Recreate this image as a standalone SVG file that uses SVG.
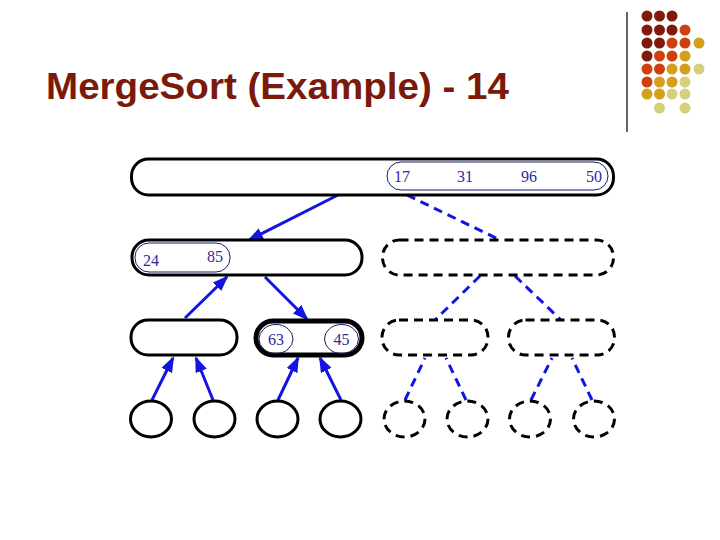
<svg xmlns="http://www.w3.org/2000/svg" width="720" height="540" viewBox="0 0 720 540">
<defs>
<style>
.box{fill:#fff;stroke:#000;stroke-width:3}
.thick{fill:#fff;stroke:#000;stroke-width:5}
.dbox{fill:#fff;stroke:#000;stroke-width:3;stroke-dasharray:9 6}
.inner{fill:none;stroke:#1a1a70;stroke-width:1}
.num{font-family:"Liberation Serif",serif;font-size:16px;fill:#2a2a9a}
.arr{stroke:#1414e0;stroke-width:3;fill:none}
.darr{stroke:#1414e0;stroke-width:3;fill:none;stroke-dasharray:9 6}
.dr{fill:#801a0a}.or{fill:#d0400e}.go{fill:#d4a01c}.pa{fill:#d4d07c}
</style>
<marker id="ah" markerUnits="userSpaceOnUse" markerWidth="16" markerHeight="12" refX="14" refY="6" orient="auto">
<path d="M0,0 L16,6 L0,12 Z" fill="#1414e0"/>
</marker>
</defs>
<rect width="720" height="540" fill="#fff"/>
<text x="46" y="99" font-family="Liberation Sans,Arial,sans-serif" font-size="36" font-weight="bold" fill="#7a1a0a" textLength="463" lengthAdjust="spacingAndGlyphs">MergeSort (Example) - 14</text>
<line x1="627" y1="12" x2="627" y2="132" stroke="#333" stroke-width="1.5"/>
<g id="dots">
<circle class="dr" cx="647" cy="16" r="5.5"/><circle class="dr" cx="659.5" cy="16" r="5.5"/><circle class="dr" cx="672" cy="16" r="5.5"/>
<circle class="dr" cx="647" cy="30" r="5.5"/><circle class="dr" cx="659.5" cy="30" r="5.5"/><circle class="dr" cx="672" cy="30" r="5.5"/><circle class="or" cx="685" cy="30" r="5.5"/>
<circle class="dr" cx="647" cy="43" r="5.5"/><circle class="dr" cx="659.5" cy="43" r="5.5"/><circle class="or" cx="672" cy="43" r="5.5"/><circle class="or" cx="685" cy="43" r="5.5"/><circle class="go" cx="699" cy="43" r="5.5"/>
<circle class="dr" cx="647" cy="56" r="5.5"/><circle class="or" cx="659.5" cy="56" r="5.5"/><circle class="or" cx="672" cy="56" r="5.5"/><circle class="go" cx="685" cy="56" r="5.5"/>
<circle class="or" cx="647" cy="69" r="5.5"/><circle class="or" cx="659.5" cy="69" r="5.5"/><circle class="go" cx="672" cy="69" r="5.5"/><circle class="go" cx="685" cy="69" r="5.5"/><circle class="pa" cx="699" cy="69" r="5.5"/>
<circle class="or" cx="647" cy="82" r="5.5"/><circle class="go" cx="659.5" cy="82" r="5.5"/><circle class="go" cx="672" cy="82" r="5.5"/><circle class="pa" cx="685" cy="82" r="5.5"/>
<circle class="go" cx="647" cy="94" r="5.5"/><circle class="go" cx="659.5" cy="94" r="5.5"/><circle class="pa" cx="672" cy="94" r="5.5"/><circle class="pa" cx="685" cy="94" r="5.5"/>
<circle class="pa" cx="659.5" cy="108" r="5.5"/><circle class="pa" cx="685" cy="108" r="5.5"/>
</g>
<g id="connectors">
<line class="arr" x1="338" y1="195" x2="249" y2="240" marker-end="url(#ah)"/>
<line class="darr" x1="407" y1="195" x2="498" y2="239"/>
<line class="arr" x1="185" y1="318" x2="227" y2="277" marker-end="url(#ah)"/>
<line class="arr" x1="265" y1="277" x2="307" y2="319" marker-end="url(#ah)"/>
<line class="darr" x1="480" y1="276" x2="435" y2="320"/>
<line class="darr" x1="515" y1="276" x2="561" y2="320"/>
<line class="arr" x1="152" y1="400" x2="173" y2="358" marker-end="url(#ah)"/>
<line class="arr" x1="213" y1="400" x2="196" y2="358" marker-end="url(#ah)"/>
<line class="arr" x1="278" y1="400" x2="298" y2="358" marker-end="url(#ah)"/>
<line class="arr" x1="341" y1="400" x2="320" y2="358" marker-end="url(#ah)"/>
<line class="darr" x1="405" y1="400" x2="425" y2="358"/>
<line class="darr" x1="466" y1="400" x2="446" y2="358"/>
<line class="darr" x1="531" y1="400" x2="552" y2="358"/>
<line class="darr" x1="592" y1="400" x2="572" y2="358"/>
</g>
<g id="n1">
<rect class="box" x="131.5" y="159" width="482" height="36" rx="17"/>
<rect class="inner" x="387" y="162" width="221" height="28" rx="14"/>
<text class="num" x="394" y="182">17</text><text class="num" x="457" y="182">31</text><text class="num" x="521" y="182">96</text><text class="num" x="586" y="182">50</text>
</g>
<g id="n2">
<rect class="box" x="132" y="240" width="230" height="35" rx="17"/>
<rect class="inner" x="135" y="243" width="95" height="29" rx="14"/>
<text class="num" x="143" y="266">24</text><text class="num" x="207" y="262">85</text>
</g>
<g id="n3"><rect class="dbox" x="382.5" y="240" width="231" height="35" rx="17"/></g>
<g id="n4"><rect class="box" x="131" y="320" width="106" height="35" rx="17"/></g>
<g id="n5">
<rect class="thick" x="256" y="321" width="106" height="34" rx="17"/>
<ellipse class="inner" cx="276" cy="339" rx="17" ry="14.5"/>
<ellipse class="inner" cx="341.5" cy="339" rx="17" ry="14.5"/>
<text class="num" x="276" y="345" text-anchor="middle">63</text><text class="num" x="341.5" y="345" text-anchor="middle">45</text>
</g>
<g id="n6"><rect class="dbox" x="382" y="320" width="106" height="35" rx="17"/></g>
<g id="n7"><rect class="dbox" x="508.5" y="320" width="106" height="35" rx="17"/></g>
<g id="n8"><ellipse class="box" cx="151" cy="419" rx="20.5" ry="18"/></g>
<g id="n9"><ellipse class="box" cx="214.5" cy="419" rx="20.5" ry="18"/></g>
<g id="n10"><ellipse class="box" cx="277.5" cy="419" rx="20.5" ry="18"/></g>
<g id="n11"><ellipse class="box" cx="340.5" cy="419" rx="20.5" ry="18"/></g>
<g id="n12"><ellipse class="dbox" cx="404.5" cy="419" rx="20.5" ry="18"/></g>
<g id="n13"><ellipse class="dbox" cx="467.5" cy="419" rx="20.5" ry="18"/></g>
<g id="n14"><ellipse class="dbox" cx="530" cy="419" rx="20.5" ry="18"/></g>
<g id="n15"><ellipse class="dbox" cx="594" cy="419" rx="20.5" ry="18"/></g>
</svg>
